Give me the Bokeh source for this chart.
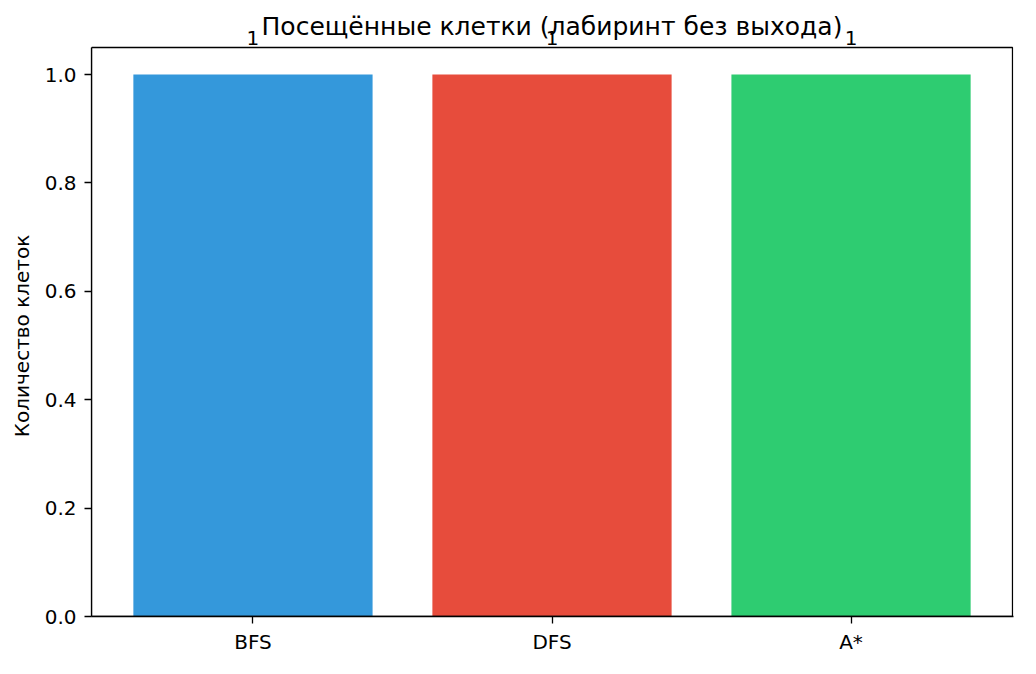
from bokeh.embed import file_html
from bokeh.models import BoxAnnotation, ColumnDataSource, FixedTicker, Label, Range1d
from bokeh.plotting import figure
from bokeh.resources import INLINE

algorithms = ["BFS", "DFS", "A*"]
visited = [1, 1, 1]
colors = ["#3498db", "#e74c3c", "#2ecc71"]
title = "Посещённые клетки (лабиринт без выхода)"
y_label = "Количество клеток"

xs = list(range(len(algorithms)))
src = ColumnDataSource(dict(x=xs, top=visited, color=colors))

FONT = "DejaVu Sans"

# axes box in data units; the frame is taller so that the labels above
# the box are not clipped away
X0, X1 = -0.54, 2.54
Y1 = 1.05
W, H = 1020, 658
LEFT, RIGHT, TOP, BOTTOM = 91, 7, 4, 42
AXES_H = 569
y_end = Y1 * (H - TOP - BOTTOM) / AXES_H
x_pad = (X1 - X0) / (W - LEFT - RIGHT)  # one pixel, keeps the right spine whole

p = figure(width=W, height=H, output_backend="svg", toolbar_location=None,
           x_range=Range1d(X0, X1 + x_pad), y_range=Range1d(0, y_end),
           min_border_left=LEFT, min_border_right=RIGHT, min_border_top=TOP,
           min_border_bottom=BOTTOM)
p.outline_line_color = None
p.grid.visible = False

p.vbar(x="x", top="top", bottom=0, width=0.8, fill_color="color",
       line_color=None, source=src)

p.add_layout(BoxAnnotation(left=X0, right=X1, bottom=0, top=Y1,
                           fill_alpha=0, line_color="black", line_alpha=1,
                           line_width=1.3))

for x, v in zip(xs, visited):
    p.add_layout(Label(x=x, y=v, text=str(v), text_align="center",
                       text_baseline="alphabetic", y_offset=37, text_font=FONT,
                       text_font_size="20px", text_color="black"))

p.add_layout(Label(x=(X0 + X1) / 2, y=Y1, text=title, text_align="center",
                   text_baseline="alphabetic", y_offset=21, text_font=FONT,
                   text_font_size="25px", text_color="black"))

p.xaxis.ticker = FixedTicker(ticks=xs)
p.xaxis.major_label_overrides = {i: n for i, n in enumerate(algorithms)}
p.yaxis.ticker = FixedTicker(ticks=[0, 0.2, 0.4, 0.6, 0.8, 1.0])
p.yaxis.major_label_overrides = {0: "0.0", 1: "1.0"}
p.yaxis.bounds = (0, Y1)
# padded at the end so it centres on the axes box, not on the taller frame
p.yaxis.axis_label = y_label + "\u00a0" * 8

for ax in (p.xaxis[0], p.yaxis[0]):
    ax.minor_tick_line_color = None
    ax.major_tick_in = 0
    ax.major_tick_out = 7
    ax.axis_line_color = "black"
    ax.axis_line_width = 1.3
    ax.major_tick_line_color = "black"
    ax.major_tick_line_width = 1.3
    ax.major_label_text_font = FONT
    ax.major_label_text_font_size = "20px"
    ax.major_label_text_color = "black"
    ax.axis_label_text_font = FONT
    ax.axis_label_text_font_size = "20px"
    ax.axis_label_text_font_style = "normal"
    ax.axis_label_text_color = "black"
    ax.major_label_standoff = 8
    ax.axis_label_standoff = 8
p.xaxis.major_label_standoff = 6

open("out.html", "w").write(file_html(p, INLINE))
